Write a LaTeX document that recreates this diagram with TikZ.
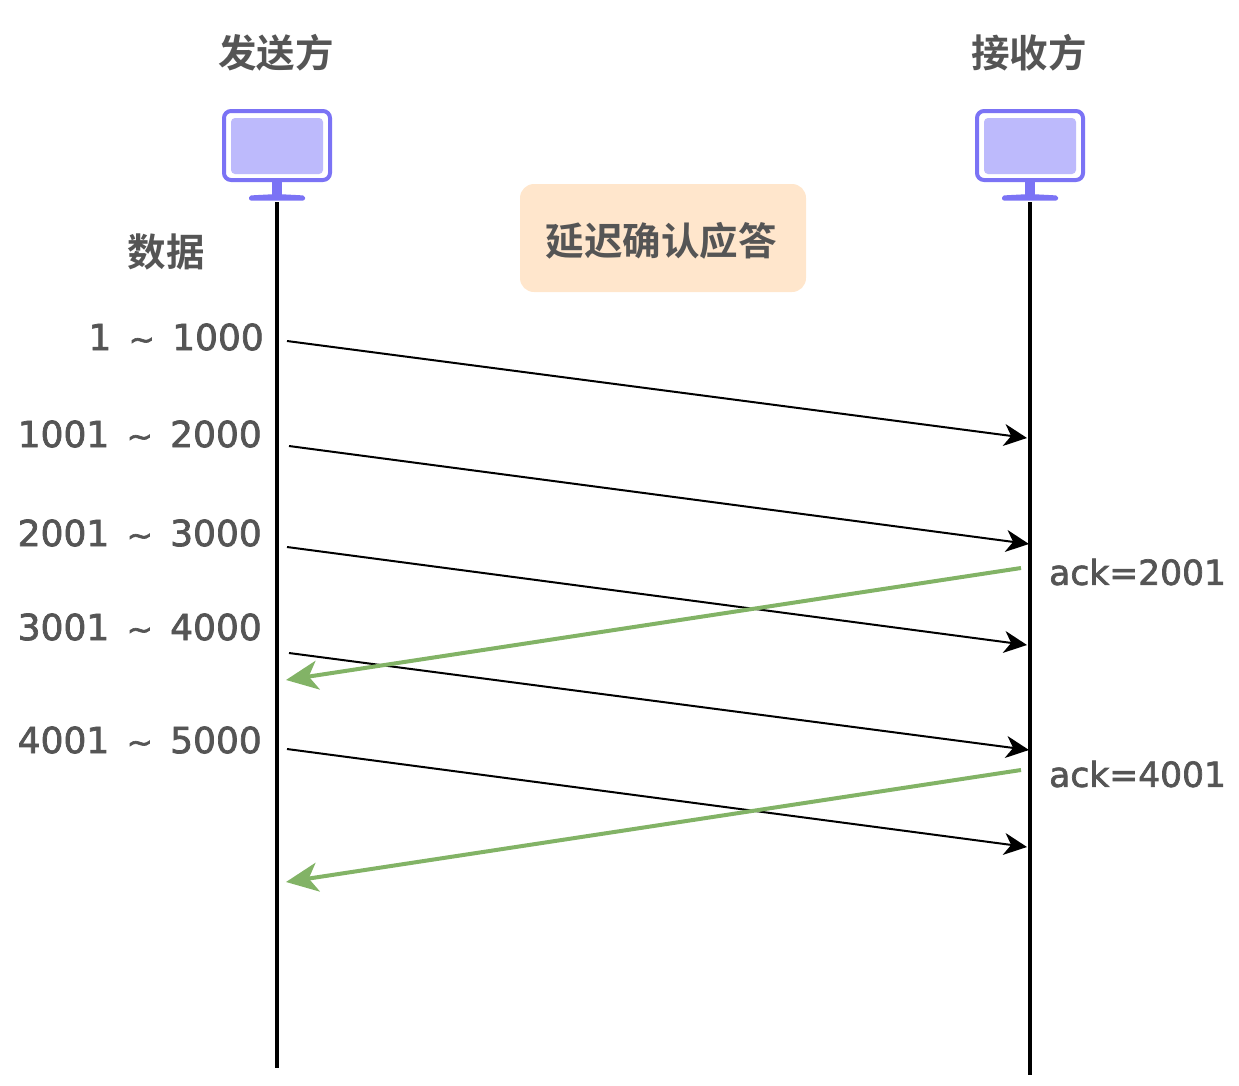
\documentclass[tikz,border=0pt]{standalone}
\usepackage{fontspec}
\setmainfont{DejaVu Sans}
\newfontfamily\cjk{Noto Sans CJK SC}[BoldFont={Noto Sans CJK SC Bold}]
\newfontfamily\lbl{DejaVu Sans}[FakeBold=2]
\usetikzlibrary{arrows.meta}
\definecolor{txt}{HTML}{555555}
\definecolor{scr}{HTML}{7B73F5}
\definecolor{scrfill}{HTML}{BDBAFC}
\definecolor{grn}{HTML}{82B366}
\definecolor{notecol}{HTML}{FFE6CC}
\newcommand{\tildemark}{\hspace{6pt}{\fontsize{31}{31}\selectfont\textasciitilde}\hspace{6pt}}
\tikzset{
  x=1pt,y=-1pt,
  titlelabel/.style={font=\cjk\bfseries\fontsize{38.5}{38.5}\selectfont,text=txt,inner sep=0pt},
  rangelabel/.style={font=\lbl\fontsize{36}{36}\selectfont,text=txt,inner sep=0pt,anchor=east},
  acklabel/.style={font=\lbl\fontsize{34.5}{34.5}\selectfont,text=txt,inner sep=0pt,anchor=west},
  lifeline/.style={draw=black,line width=3.6pt},
  msgline/.style={draw=black,line width=2pt,-{Stealth[length=23pt,width=22pt,inset=7pt]}},
  ackline/.style={draw=grn,line width=4pt,-{Stealth[length=32pt,width=29pt,inset=9pt]}},
  screenouter/.style={draw=scr,line width=4pt,fill=white,rounded corners=7pt},
  screeninner/.style={fill=scrfill,rounded corners=4pt},
  screenstand/.style={fill=scr},
}
\newcommand{\monitor}[1]{%
  \begin{scope}[shift={(#1,0)}]
    \fill[screenstand] (-5,180) rectangle (5,196);
    \fill[screenstand,rounded corners=2pt] (-28,195.5) -- (0,194) -- (28,195.5) -- (28,200.5) -- (-28,200.5) -- cycle;
    \path[screenouter] (-53,111) rectangle (53,180);
    \path[screeninner] (-46,118) rectangle (46,174);
  \end{scope}}
\begin{document}
\begin{tikzpicture}
\useasboundingbox (0,0) rectangle (1239,1085);
\monitor{277}
\monitor{1030}
\node[titlelabel] (sender) at (276,53) {发送方};
\node[titlelabel] (receiver) at (1029,53) {接收方};
\node[titlelabel] (data) at (166,252) {数据};
\node[fill=notecol,rounded corners=14pt,minimum width=286pt,minimum height=108pt,inner sep=0pt] (box) at (663,238) {};
\node[titlelabel] (boxtext) at (661,241) {延迟确认应答};

\coordinate (stop) at (277,202);
\coordinate (sbot) at (277,1068);
\coordinate (rtop) at (1030,202);
\coordinate (rbot) at (1030,1075);
\draw[lifeline] (stop) -- (sbot);
\draw[lifeline] (rtop) -- (rbot);

\node[rangelabel] (r1) at (264,337) {1 \tildemark{} 1000};
\node[rangelabel] (r2) at (262,434) {1001 \tildemark{} 2000};
\node[rangelabel] (r3) at (262,533) {2001 \tildemark{} 3000};
\node[rangelabel] (r4) at (262,627) {3001 \tildemark{} 4000};
\node[rangelabel] (r5) at (262,740) {4001 \tildemark{} 5000};
\node[acklabel] (a1) at (1049,572) {ack=2001};
\node[acklabel] (a2) at (1049,774) {ack=4001};

\coordinate (s1) at (287,341);  \coordinate (e1) at (1027,438);
\coordinate (s2) at (289,446);  \coordinate (e2) at (1029,544);
\coordinate (s3) at (287,547);  \coordinate (e3) at (1027,645);
\coordinate (s4) at (289,653);  \coordinate (e4) at (1029,750);
\coordinate (s5) at (287,749);  \coordinate (e5) at (1027,847);
\draw[msgline] (s1) -- (e1);
\draw[msgline] (s2) -- (e2);
\draw[msgline] (s3) -- (e3);
\draw[msgline] (s4) -- (e4);
\draw[msgline] (s5) -- (e5);
\coordinate (g1a) at (1021,568); \coordinate (g1b) at (286,680);
\coordinate (g2a) at (1021,770); \coordinate (g2b) at (286,882);
\draw[ackline] (g1a) -- (g1b);
\draw[ackline] (g2a) -- (g2b);
\end{tikzpicture}
\end{document}
